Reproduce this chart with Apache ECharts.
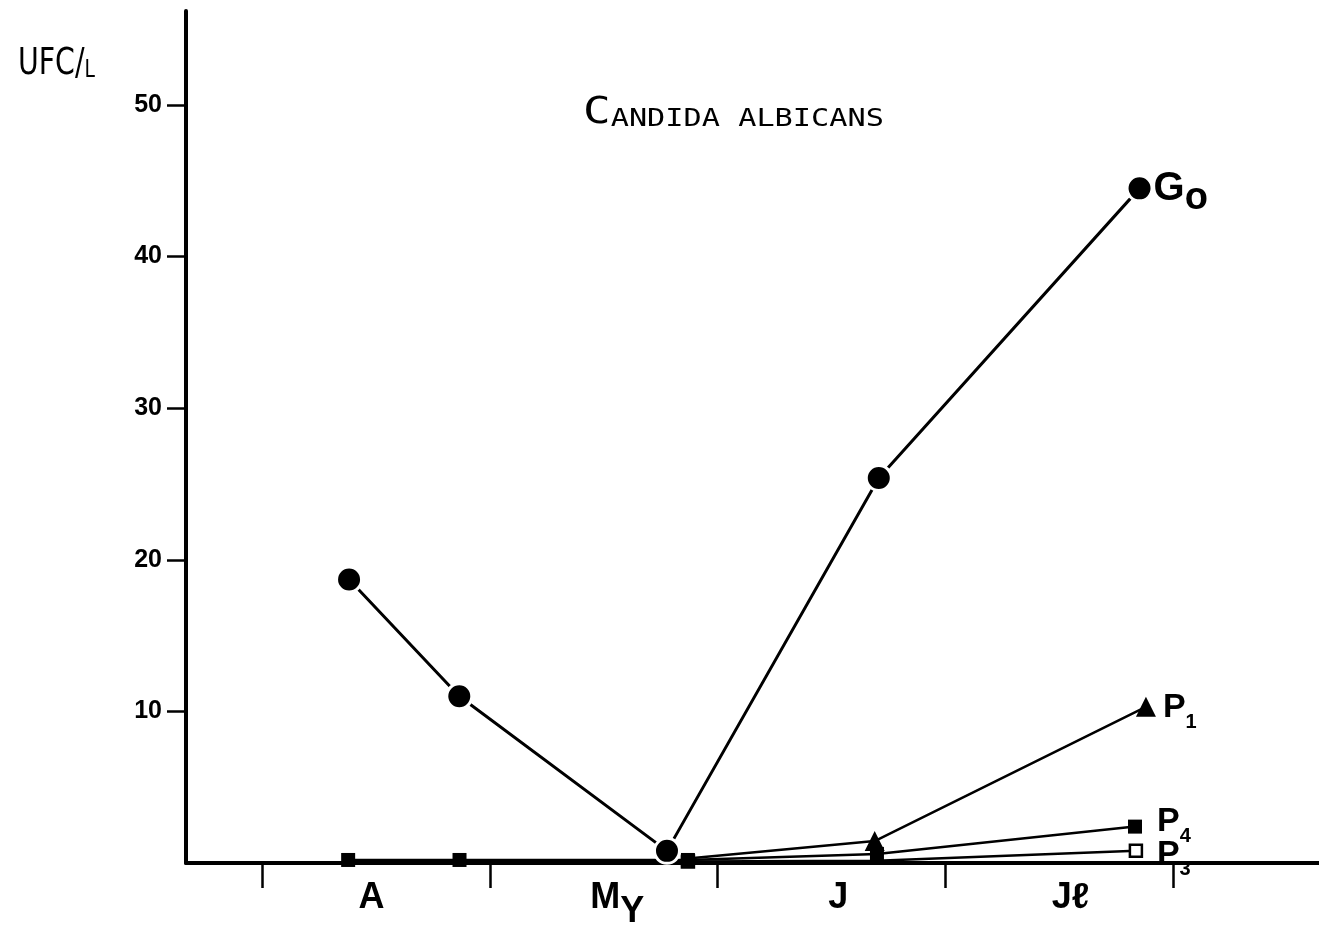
<!DOCTYPE html>
<html>
<head>
<meta charset="utf-8">
<script src="https://cdn.jsdelivr.net/npm/echarts@6/dist/echarts.min.js"></script>
<style>
  html, body { margin: 0; padding: 0; background: #fff; }
  #chart { width: 1319px; height: 927px; }
</style>
</head>
<body>
<div id="chart"></div>
<script>
// Month bands on the time axis: each month spans one unit, April starts at 0.
const monthNames = ['A', 'My', 'J', 'Jℓ'];
const monthLabelPos = [0.48, 1.56, 2.53, 3.55];
const monthBounds = [0, 1, 2, 3, 4];
const yTickValues = [10, 20, 30, 40, 50];

// Sampling dates (in month units) and counts (UFC/L) per station
const goDates  = [0.382, 0.866, 1.778, 2.708, 3.853];
const goValues = [18.7, 11.0, 0.8, 25.4, 44.5];

const p1Dates  = [1.87, 2.69, 3.881];
const p1Values = [0.3, 1.45, 10.3];

const p4Dates  = [0.378, 0.867, 1.87, 2.70, 3.833];
const p4Values = [0.2, 0.2, 0.2, 0.6, 2.4];

const p3Dates  = [1.87, 2.70, 3.837];
const p3Values = [0.1, 0.15, 0.8];

const pairs = (xs, ys) => xs.map((x, i) => [x, ys[i]]);

const BOLD = 'Liberation Sans';

// Station name with a lowered index, e.g. P + 1
function subLabel(main, sub, mainSize, subSize, lh) {
  return {
    show: true,
    formatter: '{m|' + main + '}{s|' + sub + '}',
    rich: {
      m: { fontFamily: BOLD, fontWeight: 'bold', fontSize: mainSize, color: '#000', lineHeight: lh, verticalAlign: 'top' },
      s: { fontFamily: BOLD, fontWeight: 'bold', fontSize: subSize, color: '#000', lineHeight: subSize, verticalAlign: 'bottom' }
    }
  };
}

const chart = echarts.init(document.getElementById('chart'), null, { renderer: 'canvas' });

// The first P1 point sits under the station markers at the May sampling
const p1Data = pairs(p1Dates, p1Values);
p1Data[0] = { value: p1Data[0], symbolSize: 0 };
// At the June sampling the P3 marker is covered by the P4 square
const p3Data = pairs(p3Dates, p3Values);
p3Data[1] = { value: p3Data[1], symbolSize: 0 };

const option = {
  backgroundColor: '#fff',
  animation: false,
  grid: { left: 186, right: 0, top: 11, bottom: 64, containLabel: false, outerBoundsMode: 'none' },
  xAxis: {
    type: 'value',
    min: -0.334,
    max: 4.641,
    splitLine: { show: false },
    axisLine: { show: true, lineStyle: { color: '#000', width: 4 } },
    axisTick: { show: true, customValues: monthBounds, length: 25, lineStyle: { color: '#000', width: 2.5 } },
    axisLabel: {
      show: true,
      customValues: monthLabelPos,
      margin: 17,
      formatter: function (v) {
        const i = monthLabelPos.indexOf(v);
        const name = monthNames[i] || '';
        if (name === 'My') return '{b|M}{d|Y}';
        return '{b|' + name + '}';
      },
      rich: {
        b: { fontFamily: BOLD, fontWeight: 'bold', fontSize: 36, color: '#000', lineHeight: 40, verticalAlign: 'top' },
        d: { fontFamily: BOLD, fontWeight: 'bold', fontSize: 36, color: '#000', lineHeight: 50, verticalAlign: 'bottom' }
      }
    }
  },
  yAxis: {
    type: 'value',
    min: 0,
    max: 56.2,
    splitLine: { show: false },
    axisLine: { show: true, onZero: false, lineStyle: { color: '#000', width: 4 } },
    axisTick: { show: true, customValues: yTickValues, length: 19, lineStyle: { color: '#000', width: 2.5 } },
    axisLabel: {
      show: true,
      customValues: yTickValues,
      margin: 24,
      fontFamily: BOLD,
      fontWeight: 'bold',
      fontSize: 25,
      color: '#000'
    }
  },
  graphic: [
    {
      type: 'text',
      x: 18, y: 45,
      scaleX: 0.83,
      style: {
        text: '{a|UFC/}{l|L}',
        rich: {
          a: { fontFamily: 'DejaVu Sans Condensed', fontSize: 38, fill: '#000', lineHeight: 38, verticalAlign: 'bottom' },
          l: { fontFamily: 'DejaVu Sans Condensed', fontSize: 25, fill: '#000', lineHeight: 25, verticalAlign: 'bottom' }
        }
      }
    },
    {
      type: 'text',
      x: 583, y: 94,
      scaleX: 1.21,
      style: {
        text: '{c|C}{r|ANDIDA ALBICANS}',
        rich: {
          c: { fontFamily: 'DejaVu Sans Mono', fontSize: 38, fill: '#000', lineHeight: 38, verticalAlign: 'bottom' },
          r: { fontFamily: 'DejaVu Sans Mono', fontSize: 25, fill: '#000', lineHeight: 25, verticalAlign: 'bottom' }
        }
      }
    }
  ],
  series: [
    {
      name: 'Go',
      type: 'line',
      data: pairs(goDates, goValues),
      symbol: 'circle',
      symbolSize: 25,
      z: 6,
      lineStyle: { color: '#000', width: 3 },
      itemStyle: { color: '#000', borderColor: '#fff', borderWidth: 3 },
      endLabel: Object.assign(subLabel('G', 'o', 40, 38, 49), { distance: 14, offset: [0, 5] })
    },
    {
      name: 'P1',
      type: 'line',
      data: p1Data,
      symbol: 'triangle',
      symbolSize: 20,
      z: 5,
      lineStyle: { color: '#000', width: 2.5 },
      itemStyle: { color: '#000' },
      endLabel: Object.assign(subLabel('P', '1', 34, 20, 42), { distance: 17, offset: [0, 5] })
    },
    {
      name: 'P4',
      type: 'line',
      data: pairs(p4Dates, p4Values),
      symbol: 'rect',
      symbolSize: 14,
      z: 4,
      lineStyle: { color: '#000', width: 2.5 },
      itemStyle: { color: '#000' },
      endLabel: Object.assign(subLabel('P', '4', 34, 20, 42), { distance: 22, offset: [0, -1] })
    },
    {
      name: 'P3',
      type: 'line',
      data: p3Data,
      symbol: 'rect',
      symbolSize: 12,
      z: 3,
      lineStyle: { color: '#000', width: 2.5 },
      itemStyle: { color: '#fff', borderColor: '#000', borderWidth: 2.5 },
      endLabel: Object.assign(subLabel('P', '3', 34, 20, 42), { distance: 21, offset: [0, 8] })
    }
  ]
};

chart.setOption(option);
</script>
</body>
</html>
